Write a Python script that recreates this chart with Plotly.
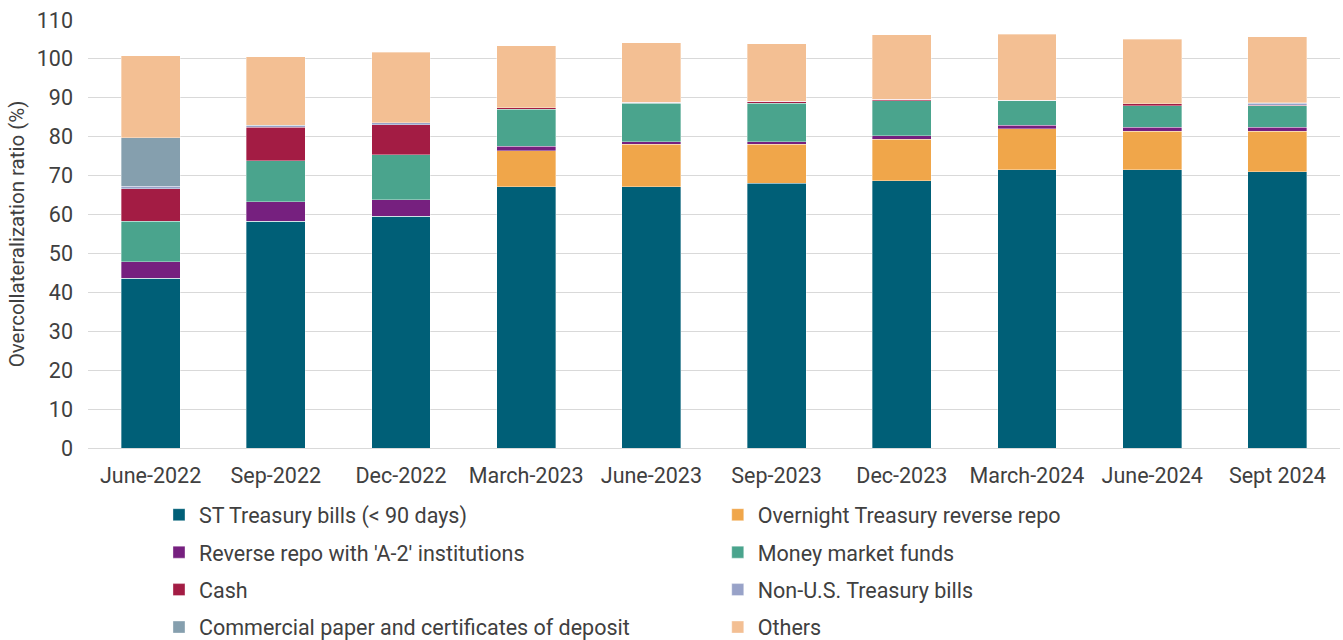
import plotly.graph_objects as go

categories = ["June-2022", "Sep-2022", "Dec-2022", "March-2023", "June-2023",
              "Sep-2023", "Dec-2023", "March-2024", "June-2024", "Sept 2024"]

st_tbills = [43.6, 58.3, 59.5, 67.1, 67.1, 68.1, 68.7, 71.5, 71.5, 71.0]
overnight_rrp = [0, 0, 0, 9.3, 11.0, 10.0, 10.6, 10.5, 9.9, 10.4]
reverse_repo_a2 = [4.3, 5.0, 4.3, 1.1, 0.6, 0.6, 1.0, 1.0, 1.0, 1.0]
money_market = [10.4, 10.5, 11.6, 9.5, 9.9, 9.9, 8.9, 6.2, 5.6, 5.6]
cash = [8.3, 8.6, 7.7, 0.5, 0.2, 0.5, 0.4, 0.2, 0.5, 0.1]
non_us_tbills = [0.7, 0.4, 0.5, 0, 0, 0, 0, 0, 0, 0.5]
commercial_paper = [12.5, 0.2, 0, 0, 0, 0, 0, 0, 0, 0.1]
others = [21.0, 17.6, 18.1, 15.9, 15.3, 14.8, 16.6, 17.0, 16.5, 17.0]

series = [
    ("ST Treasury bills (< 90 days)", st_tbills, "#005f77", "legend"),
    ("Overnight Treasury reverse repo", overnight_rrp, "#f0a64a", "legend2"),
    ("Reverse repo with 'A-2' institutions", reverse_repo_a2, "#76207f", "legend"),
    ("Money market funds", money_market, "#4aa48d", "legend2"),
    ("Cash", cash, "#a31c44", "legend"),
    ("Non-U.S. Treasury bills", non_us_tbills, "#98a2c8", "legend2"),
    ("Commercial paper and certificates of deposit", commercial_paper, "#859fae", "legend"),
    ("Others", others, "#f3bf93", "legend2"),
]

FONT = "Roboto, Arial, sans-serif"
TXT = "#404040"
fig = go.Figure()
for name, vals, color, lg in series:
    fig.add_trace(go.Bar(
        x=categories, y=vals, name=name, legend=lg, legendgroup=name,
        marker=dict(color=color, line=dict(color="rgba(255,255,255,0.5)", width=0.7)),
    ))

legend_common = dict(
    orientation="v", yanchor="top", xanchor="left",
    font=dict(family=FONT, size=21.5, color=TXT),
    tracegroupgap=6.5, itemwidth=30, bgcolor="rgba(0,0,0,0)",
    traceorder="grouped",
)
fig.update_layout(
    barmode="stack",
    bargap=0.53,
    width=1343, height=640,
    margin=dict(l=88, r=3, t=20, b=192, autoexpand=False),
    paper_bgcolor="white", plot_bgcolor="white",
    font=dict(family=FONT, size=21, color=TXT),
    legend=dict(x=0.0567, y=-0.108, **legend_common),
    legend2=dict(x=0.503, y=-0.108, **legend_common),
    yaxis=dict(
        range=[0, 110], dtick=10, showgrid=True, gridcolor="#d9d9d9", gridwidth=1,
        zeroline=False, ticks="", ticklen=0, ticklabelstandoff=14,
        title=dict(text="Overcollateralization ratio (%)", font=dict(size=20.5), standoff=6),
        tickfont=dict(size=21.5, color=TXT),
    ),
    xaxis=dict(
        showline=True, linecolor="#d9d9d9", linewidth=1, ticks="",
        ticklabelstandoff=8,
        tickfont=dict(size=21.5, color=TXT),
    ),
)
fig.write_html("out.html")
